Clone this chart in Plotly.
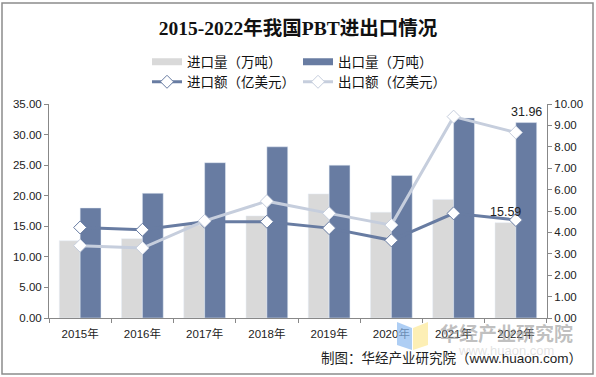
import plotly.graph_objects as go

years = ["2015年", "2016年", "2017年", "2018年", "2019年", "2020年", "2021年", "2022年"]
import_volume = [12.64, 12.97, 15.2, 16.7, 20.3, 17.3, 19.4, 15.59]
export_volume = [18.0, 20.4, 25.4, 28.0, 25.0, 23.3, 32.7, 31.96]
import_value = [4.23, 4.12, 4.50, 4.50, 4.20, 3.63, 4.89, 4.58]
export_value = [3.38, 3.27, 4.54, 5.46, 4.89, 4.34, 9.41, 8.67]

GRAY = "#d9d9d9"
BLUE = "#687ca2"
LIGHT = "#c6cedd"
FONT = "Liberation Sans, Noto Sans CJK SC"

W, H = 596, 377
L, R, T, B = 49, 547, 104, 318

fig = go.Figure()
fig.add_trace(go.Bar(x=years, y=import_volume, name="进口量（万吨）", marker_color=GRAY,
                     showlegend=False))
fig.add_trace(go.Bar(x=years, y=export_volume, name="出口量（万吨）", marker_color=BLUE,
                     showlegend=False))
# legend swatches for the bar series (flat rectangles as in the reference)
fig.add_trace(go.Scatter(x=[None], y=[None], mode="lines", name="进口量（万吨）",
                         line=dict(color=GRAY, width=7), legend="legend", hoverinfo="skip"))
fig.add_trace(go.Scatter(x=[None], y=[None], mode="lines", name="出口量（万吨）",
                         line=dict(color=BLUE, width=7), legend="legend", hoverinfo="skip"))
fig.add_trace(go.Scatter(x=years, y=import_value, name="进口额（亿美元）", yaxis="y2", mode="lines+markers",
                         line=dict(color=BLUE, width=3),
                         marker=dict(symbol="diamond", size=10, color="white", line=dict(color=BLUE, width=1)),
                         legend="legend2"))
fig.add_trace(go.Scatter(x=years, y=export_value, name="出口额（亿美元）", yaxis="y2", mode="lines+markers",
                         line=dict(color=LIGHT, width=3),
                         marker=dict(symbol="diamond", size=10, color="white", line=dict(color=LIGHT, width=1)),
                         legend="legend2"))

axis_common = dict(showgrid=False, showline=True, linecolor="#888", linewidth=1,
                   ticks="outside", tickcolor="#888", ticklen=4,
                   tickfont=dict(family=FONT, size=11.5, color="#222"), zeroline=False)

legend_common = dict(orientation="h", x=0.5, xanchor="center", xref="container", yref="container",
                     yanchor="middle", font=dict(family=FONT, size=13.5, color="#111"),
                     entrywidth=106, traceorder="normal", bgcolor="rgba(0,0,0,0)")

fig.update_layout(
    width=W, height=H,
    margin=dict(l=L, r=W - R, t=T, b=H - B, autoexpand=False),
    paper_bgcolor="white", plot_bgcolor="white",
    barmode="group", bargap=0.33, bargroupgap=0,
    title=dict(text="<b>2015-2022年我国PBT进出口情况</b>", x=0.5, xanchor="center",
               y=1 - 28 / H, yanchor="middle", yref="container",
               font=dict(family="Liberation Serif, Noto Sans CJK SC", size=19.5, color="#111")),
    xaxis=dict(**axis_common, tickson="boundaries", type="category", ticklabelstandoff=5),
    yaxis=dict(**axis_common, range=[0, 35], dtick=5, tickformat=".2f"),
    yaxis2=dict(**axis_common, range=[0, 10], dtick=1, tickformat=".2f", overlaying="y", side="right"),
    legend=dict(**legend_common, y=1 - 62 / H),
    legend2=dict(**legend_common, y=1 - 82 / H),
    font=dict(family=FONT),
)

# data labels on the last bars (gray bar left of centre, blue bar right of centre)
bar_half_offset = (R - L) / len(years) * (1 - 0.33) / 4
for vals, shift in ((import_volume, -bar_half_offset), (export_volume, bar_half_offset)):
    fig.add_annotation(x=years[-1], y=vals[-1], xref="x", yref="y", text=f"{vals[-1]:.2f}",
                       showarrow=False, xanchor="center", yanchor="bottom", xshift=shift, yshift=2,
                       font=dict(family=FONT, size=12.5, color="#222"))

def px(xp):
    return (xp - L) / (R - L)

def py(yp):
    return (B - yp) / (B - T)

# outer frame
fig.add_shape(type="rect", xref="paper", yref="paper",
              x0=px(2), x1=px(593), y0=py(374), y1=py(3),
              line=dict(color="#8c8c8c", width=1.5), layer="below")

# watermark logo
fig.add_shape(type="path", xref="paper", yref="paper",
              path=f"M {px(397)},{py(322)} L {px(412)},{py(328)} L {px(412)},{py(350)} L {px(397)},{py(345)} Z",
              fillcolor="rgba(140,185,240,0.7)", line=dict(width=0), layer="above")
fig.add_shape(type="path", xref="paper", yref="paper",
              path=f"M {px(413)},{py(328)} L {px(428)},{py(322)} L {px(428)},{py(345)} L {px(413)},{py(350)} Z",
              fillcolor="rgba(252,232,150,0.7)", line=dict(width=0), layer="above")

fig.add_annotation(x=px(506), y=py(332), xref="paper", yref="paper", text="<b>华经产业研究院</b>",
                   showarrow=False, xanchor="center", yanchor="middle",
                   font=dict(family="Noto Sans CJK SC", size=19, color="rgba(150,150,150,0.6)"))
fig.add_annotation(x=px(506), y=py(350), xref="paper", yref="paper", text="www.huaon.com",
                   showarrow=False, xanchor="center", yanchor="middle",
                   font=dict(family=FONT, size=13, color="rgba(170,170,170,0.35)"))
fig.add_annotation(x=px(584), y=py(358), xref="paper", yref="paper",
                   text="制图：华经产业研究院（www.huaon.com）",
                   showarrow=False, xanchor="right", yanchor="middle",
                   font=dict(family=FONT, size=13.5, color="#222"))

fig.write_html("out.html", config={"displayModeBar": False},
               post_script="document.body.style.margin='0';document.body.style.overflow='hidden';")
